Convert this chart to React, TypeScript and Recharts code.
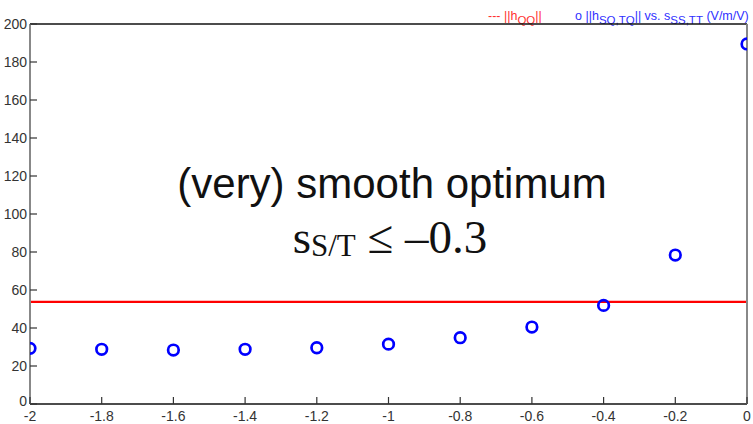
import React from 'react';
import { ScatterChart, Scatter, XAxis, YAxis, ReferenceLine, Customized } from 'recharts';

const sValues = [-2, -1.8, -1.6, -1.4, -1.2, -1, -0.8, -0.6, -0.4, -0.2, 0];
const hSQTQ = [29.3, 28.8, 28.4, 28.8, 29.6, 31.5, 34.9, 40.5, 51.9, 78.4, 189.5];
const hQQ = 53.8;
const xTicks = [-2, -1.8, -1.6, -1.4, -1.2, -1, -0.8, -0.6, -0.4, -0.2, 0];
const yTicks = [0, 20, 40, 60, 80, 100, 120, 140, 160, 180, 200];

const data = sValues.map((s, i) => ({ s, h: hSQTQ[i] }));

const FONT = 'Liberation Sans, Arial, sans-serif';
const TICK_LEN = 7;

const BottomTick = (p: any) => (
  <g>
    <line x1={p.x} x2={p.x} y1={p.y} y2={p.y - TICK_LEN} stroke="#333" strokeWidth={1.2} />
    <text x={p.x} y={p.y + 17} textAnchor="middle" fontSize={14} fill="#333" fontFamily={FONT}>
      {String(p.payload.value)}
    </text>
  </g>
);
const TopTick = (p: any) => (
  <line x1={p.x} x2={p.x} y1={p.y} y2={p.y + TICK_LEN} stroke="#333" strokeWidth={1.2} />
);
const LeftTick = (p: any) => (
  <g>
    <line x1={p.x} x2={p.x + TICK_LEN} y1={p.y} y2={p.y} stroke="#333" strokeWidth={1.2} />
    <text x={p.x - 3} y={p.y + (p.payload.value === 0 ? 2 : 5)} textAnchor="end" fontSize={14} fill="#333" fontFamily={FONT}>
      {String(p.payload.value)}
    </text>
  </g>
);
const RightTick = (p: any) => (
  <line x1={p.x} x2={p.x - TICK_LEN} y1={p.y} y2={p.y} stroke="#333" strokeWidth={1.2} />
);

const Ring = (props: any) => (
  <circle cx={props.cx} cy={props.cy} r={5.3} fill="none" stroke="#0000ff" strokeWidth={2.7} />
);

const Annotations = () => (
  <g style={{ whiteSpace: 'pre' }}>
    <text x={488} y={20} fontSize={12.5} fill="#ff3030" fontFamily={FONT}>
      {'--- ||h'}
      <tspan dy={4} fontSize={11.5}>QQ</tspan>
      <tspan dy={-4}>||</tspan>
    </text>
    <text x={575} y={20} fontSize={12.5} fill="#3030ff" fontFamily={FONT}>
      {'o  ||h'}
      <tspan dy={4} fontSize={11.5}>SQ,TQ</tspan>
      <tspan dy={-4}>{'|| vs. s'}</tspan>
      <tspan dy={4} fontSize={11.5}>SS,TT</tspan>
      <tspan dy={-4}>{' (V/m/V)'}</tspan>
    </text>
    <text x={392} y={198} textAnchor="middle" fontSize={42} fill="#111" fontFamily={FONT}>
      (very) smooth optimum
    </text>
    <text x={390} y={253} textAnchor="middle" fontSize={47} fill="#111" fontFamily="Liberation Serif, Times New Roman, serif">
      s
      <tspan fontSize={31} dy={3}>S/T</tspan>
      <tspan dy={-3}>{' ≤ –0.3'}</tspan>
    </text>
  </g>
);

export default function App() {
  return (
    <div style={{ position: 'absolute', left: 0, top: 0, background: '#fff' }}>
      <ScatterChart width={753} height={424} margin={{ top: 23, right: 5, bottom: 0, left: 0 }}>
        <XAxis
          xAxisId="b"
          dataKey="s"
          type="number"
          domain={[-2, 0]}
          ticks={xTicks}
          interval={0}
          height={20}
          tickSize={0}
          tickMargin={0}
          axisLine={{ stroke: '#111', strokeWidth: 1.3 }}
          tickLine={false}
          tick={BottomTick}
          allowDataOverflow
        />
        <XAxis
          xAxisId="t"
          orientation="top"
          type="number"
          domain={[-2, 0]}
          ticks={xTicks}
          interval={0}
          height={1}
          tickSize={0}
          tickMargin={0}
          axisLine={{ stroke: '#111', strokeWidth: 1.3 }}
          tickLine={false}
          tick={TopTick}
        />
        <YAxis
          yAxisId="l"
          dataKey="h"
          type="number"
          domain={[0, 200]}
          ticks={yTicks}
          interval={0}
          width={30}
          tickSize={0}
          tickMargin={0}
          axisLine={{ stroke: '#888', strokeWidth: 2 }}
          tickLine={false}
          tick={LeftTick}
          allowDataOverflow
        />
        <YAxis
          yAxisId="r"
          orientation="right"
          type="number"
          domain={[0, 200]}
          ticks={yTicks}
          interval={0}
          width={1}
          tickSize={0}
          tickMargin={0}
          axisLine={{ stroke: '#888', strokeWidth: 2 }}
          tickLine={false}
          tick={RightTick}
        />
        <ReferenceLine xAxisId="b" yAxisId="l" y={hQQ} stroke="#ff0000" strokeWidth={2.2} />
        <Scatter xAxisId="b" yAxisId="l" data={data} dataKey="h" shape={Ring} isAnimationActive={false} />
        <Customized component={Annotations} />
      </ScatterChart>
    </div>
  );
}
